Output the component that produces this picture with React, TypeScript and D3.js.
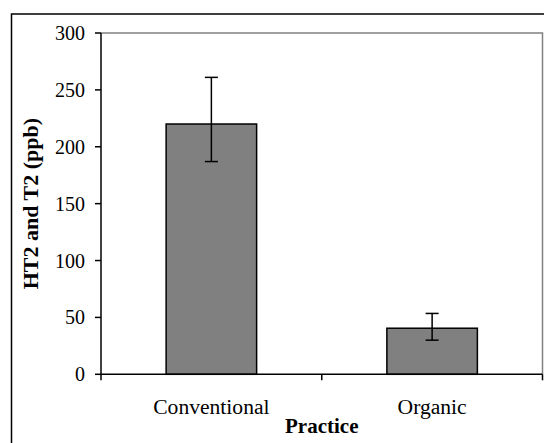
import React from "react";
import * as d3 from "d3";

const categories = ["Conventional", "Organic"];
const values = [220, 40.5];
const errUpper = [261, 53.5];
const errLower = [187, 30];
const yTicks = [0, 50, 100, 150, 200, 250, 300];
const yLabel = "HT2 and T2 (ppb)";
const xLabel = "Practice";

const W = 544;
const H = 443;
const left = 101;
const right = 542.5;
const top = 33;
const bottom = 374.3;
const font = "Liberation Serif, Tinos, Times New Roman, Times, DejaVu Serif, serif";

export default function App() {
  const x = d3.scaleBand<string>().domain(categories).range([left, right]).paddingInner(0.59).paddingOuter(0.295);
  const y = d3.scaleLinear().domain([0, 300]).range([bottom, top]);
  const step = x.step();
  const bounds = d3.range(categories.length + 1).map((i) => left + i * step);
  const bw = x.bandwidth();
  const ts = { fontFamily: font };
  return (
    <svg width={W} height={H} style={{ position: "absolute", left: 0, top: 0, background: "#fff" }}>
      <rect x={11.5} y={14} width={W + 20} height={H + 20} fill="#fff" stroke="#000" strokeWidth={1.5} />
      <path d={`M${left},${top}H${right}V${bottom}`} fill="none" stroke="#808080" strokeWidth={1.5} />
      {categories.map((c, i) => {
        const cx = x(c)! + bw / 2;
        return (
          <g key={c}>
            <rect x={x(c)} y={y(values[i])} width={bw} height={y(0) - y(values[i])} fill="#808080" stroke="#000" strokeWidth={1.5} />
            <line x1={cx} x2={cx} y1={y(errUpper[i])} y2={y(errLower[i])} stroke="#000" strokeWidth={1.5} />
            <line x1={cx - 6.5} x2={cx + 6.5} y1={y(errUpper[i])} y2={y(errUpper[i])} stroke="#000" strokeWidth={1.5} />
            <line x1={cx - 6.5} x2={cx + 6.5} y1={y(errLower[i])} y2={y(errLower[i])} stroke="#000" strokeWidth={1.5} />
            <text x={cx} y={414} textAnchor="middle" fontSize={21.6} fill="#000" style={ts}>{c}</text>
          </g>
        );
      })}
      <line x1={left} x2={left} y1={top} y2={bottom} stroke="#000" strokeWidth={1.5} />
      <line x1={left} x2={right} y1={bottom} y2={bottom} stroke="#000" strokeWidth={1.5} />
      {yTicks.map((t) => (
        <g key={t}>
          <line x1={left - 6} x2={left} y1={y(t)} y2={y(t)} stroke="#000" strokeWidth={1.5} />
          <text x={85} y={y(t)} dy="0.35em" textAnchor="end" fontSize={20} fill="#000" style={ts}>{t}</text>
        </g>
      ))}
      {bounds.map((b, i) => (
        <line key={i} x1={b} x2={b} y1={bottom} y2={bottom + 6} stroke="#000" strokeWidth={1.5} />
      ))}
      <text x={(left + right) / 2} y={433} textAnchor="middle" fontSize={21} fontWeight="bold" fill="#000" style={ts}>{xLabel}</text>
      <text transform={`translate(30,${(top + bottom) / 2}) rotate(-90)`} dy="0.35em" textAnchor="middle" fontSize={22} fontWeight="bold" fill="#000" style={ts}>{yLabel}</text>
    </svg>
  );
}
